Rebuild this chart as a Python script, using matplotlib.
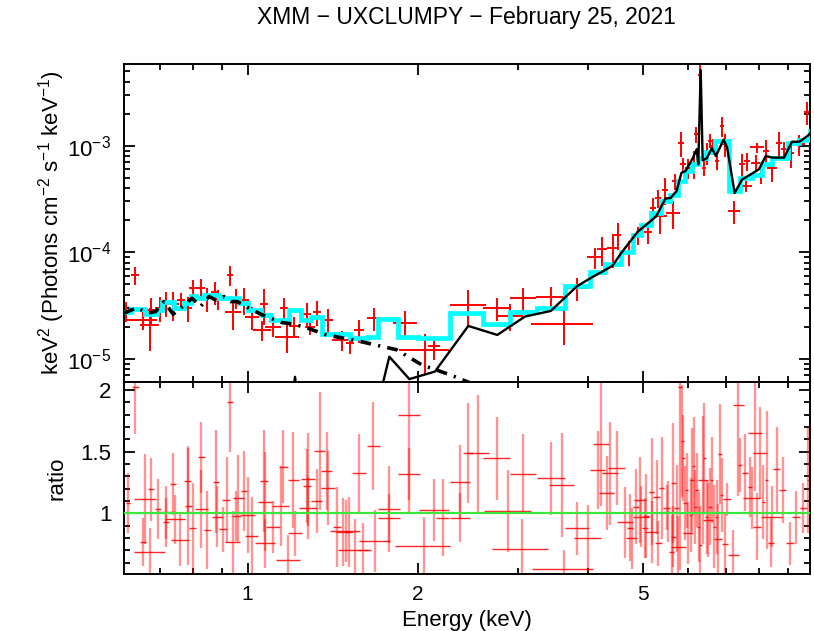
import matplotlib
matplotlib.use("Agg")

import matplotlib.pyplot as plt
from matplotlib.ticker import FixedLocator, FixedFormatter, NullFormatter, MultipleLocator, LogLocator
import numpy as np

plt.rcParams["font.family"] = ["Liberation Sans", "DejaVu Sans"]
plt.rcParams["mathtext.fontset"] = "custom"
plt.rcParams["mathtext.rm"] = "Liberation Sans"
plt.rcParams["mathtext.default"] = "regular"

# =========================
# 1. unfolded spectrum (top panel)
# =========================
spec_e = [0.611, 0.633, 0.653, 0.672, 0.675, 0.700, 0.718, 0.739, 0.762, 0.786,
          0.802, 0.827, 0.847, 0.875, 0.887, 0.931, 0.942, 0.954, 0.985, 1.020,
          1.069, 1.060, 1.109, 1.160, 1.174, 1.208, 1.273, 1.289, 1.325, 1.389,
          1.467, 1.517, 1.575, 1.673, 1.897, 2.058, 2.135, 2.454, 2.755, 2.908,
          3.069, 3.432, 3.623, 3.815, 4.110, 4.223, 4.427, 4.503, 4.719, 4.887,
          5.093, 5.199, 5.311, 5.343, 5.470, 5.644, 5.683, 5.840, 5.879, 5.999,
          6.152, 6.197, 6.286, 6.403, 6.473, 6.561, 6.642, 6.745, 6.884, 6.960,
          7.222, 7.473, 7.577, 7.626, 7.895, 7.943, 8.057, 8.226, 8.453, 8.687,
          8.865, 9.115, 9.434, 9.734]
spec_xerr = [0.010, 0.010, 0.040, 0.027, 0.014, 0.014, 0.012, 0.018, 0.012, 0.013,
             0.013, 0.013, 0.014, 0.014, 0.018, 0.011, 0.031, 0.012, 0.020, 0.029,
             0.017, 0.039, 0.036, 0.019, 0.057, 0.025, 0.021, 0.026, 0.022, 0.028,
             0.060, 0.025, 0.032, 0.048, 0.093, 0.209, 0.052, 0.180, 0.146, 0.154,
             0.162, 0.195, 0.457, 0.186, 0.134, 0.086, 0.108, 0.073, 0.077, 0.099,
             0.083, 0.063, 0.065, 0.152, 0.067, 0.161, 0.069, 0.071, 0.072, 0.073,
             0.050, 0.050, 0.038, 0.052, 0.053, 0.053, 0.054, 0.055, 0.056, 0.085,
             0.176, 0.091, 0.216, 0.093, 0.161, 0.226, 0.098, 0.100, 0.172, 0.106,
             0.108, 0.111, 0.230, 0.119]
spec_flux = [2.82e-5, 6.14e-5, 2.32e-5, 2.09e-5, 2.89e-5, 3.01e-5, 3.38e-5, 3.26e-5, 3.58e-5, 3.01e-5,
             4.64e-5, 4.61e-5, 3.71e-5, 4.23e-5, 3.66e-5, 6.14e-5, 2.76e-5, 3.74e-5, 3.58e-5, 2.48e-5,
             3.28e-5, 1.87e-5, 2.00e-5, 3.01e-5, 1.61e-5, 2.04e-5, 2.65e-5, 2.00e-5, 2.76e-5, 2.32e-5,
             1.51e-5, 1.42e-5, 1.87e-5, 2.43e-5, 2.19e-5, 1.22e-5, 1.31e-5, 3.21e-5, 2.99e-5, 2.54e-5,
             3.71e-5, 3.85e-5, 2.13e-5, 4.61e-5, 9.00e-5, 1.07e-4, 1.09e-4, 1.46e-4, 1.01e-4, 1.46e-4,
             1.56e-4, 2.61e-4, 3.24e-4, 2.17e-4, 3.88e-4, 2.34e-4, 4.67e-4, 1.07e-3, 6.68e-4, 6.18e-4,
             6.93e-4, 1.29e-3, 4.60e-3, 6.22e-4, 8.61e-4, 1.11e-3, 9.93e-4, 7.19e-4, 1.54e-3, 1.04e-3,
             2.44e-4, 6.68e-4, 4.19e-4, 7.19e-4, 6.93e-4, 9.62e-4, 5.37e-4, 8.91e-4, 6.22e-4, 1.07e-3,
             9.31e-4, 8.61e-4, 1.03e-3, 2.06e-3]
spec_yfrac = [0.22, 0.19, 0.19, 0.43, 0.28, 0.26, 0.26, 0.30, 0.17, 0.26,
              0.19, 0.22, 0.26, 0.24, 0.22, 0.22, 0.32, 0.22, 0.28, 0.24,
              0.37, 0.22, 0.19, 0.24, 0.30, 0.22, 0.26, 0.17, 0.26, 0.26,
              0.22, 0.22, 0.24, 0.24, 0.28, 0.41, 0.26, 0.37, 0.24, 0.28,
              0.26, 0.22, 0.37, 0.24, 0.22, 0.30, 0.35, 0.28, 0.26, 0.19,
              0.24, 0.24, 0.19, 0.32, 0.28, 0.30, 0.17, 0.26, 0.15, 0.22,
              0.30, 0.17, 0.30, 0.17, 0.24, 0.15, 0.17, 0.17, 0.22, 0.24,
              0.24, 0.24, 0.13, 0.19, 0.17, 0.11, 0.19, 0.26, 0.26, 0.26,
              0.17, 0.28, 0.22, 0.24]

# total model (cyan histogram)
model_edges = [0.605, 0.622, 0.658, 0.693, 0.707, 0.741, 0.772, 0.793, 0.810, 0.838,
               0.890, 0.933, 0.966, 1.000, 1.055, 1.098, 1.183, 1.241, 1.293, 1.353,
               1.517, 1.623, 1.702, 1.846, 2.003, 2.279, 2.609, 2.908, 3.242, 3.637,
               4.027, 4.280, 4.564, 4.787, 4.955, 5.161, 5.376, 5.567, 5.760, 5.926,
               6.085, 6.248, 6.455, 6.697, 7.076, 7.422, 7.783, 8.106, 8.453, 8.993,
               9.434, 9.838, 10.06]
model_tot = [2.75e-5, 2.97e-5, 2.63e-5, 2.89e-5, 3.45e-5, 2.99e-5, 3.33e-5, 3.93e-5, 3.76e-5, 3.99e-5,
             3.71e-5, 3.76e-5, 3.33e-5, 2.89e-5, 2.59e-5, 2.32e-5, 2.89e-5, 2.32e-5, 2.50e-5, 1.72e-5,
             1.57e-5, 1.60e-5, 2.36e-5, 1.62e-5, 1.57e-5, 2.69e-5, 2.13e-5, 2.75e-5, 2.99e-5, 4.84e-5,
             6.55e-5, 7.78e-5, 1.01e-4, 1.46e-4, 1.81e-4, 2.34e-4, 3.01e-4, 3.45e-4, 4.67e-4, 5.79e-4,
             6.68e-4, 7.67e-4, 8.73e-4, 1.11e-3, 3.74e-4, 4.98e-4, 5.31e-4, 6.68e-4, 7.73e-4, 1.07e-3,
             1.13e-3, 1.38e-3]

# uxclumpy component (solid black)
comp1_e = [0.605, 1.198, 1.213, 1.228, 1.720, 1.737, 1.780, 1.931, 2.143, 2.454,
           2.761, 3.091, 3.432, 3.819, 4.035, 4.411, 4.564, 4.887, 5.057, 5.268,
           5.470, 5.588, 5.722, 5.840, 5.938, 6.122, 6.213, 6.253, 6.315, 6.366,
           6.473, 6.607, 6.717, 6.931, 7.031, 7.250, 7.473, 7.733, 8.002, 8.226,
           8.453, 8.865, 9.152, 9.434, 9.763, 9.963]
comp1_f = [2.69e-6, 4.14e-6, 6.80e-6, 4.14e-6, 4.61e-6, 6.14e-6, 1.05e-5, 6.47e-6, 7.62e-6, 2.04e-5,
           1.68e-5, 2.50e-5, 2.82e-5, 4.81e-5, 5.73e-5, 7.46e-5, 9.75e-5, 1.56e-4, 1.81e-4, 2.17e-4,
           3.19e-4, 3.24e-4, 3.74e-4, 5.57e-4, 5.79e-4, 7.73e-4, 9.27e-4, 6.68e-4, 5.12e-3, 7.30e-4,
           7.62e-4, 9.48e-4, 8.00e-4, 1.14e-3, 9.62e-4, 3.60e-4, 4.82e-4, 5.37e-4, 6.00e-4, 8.00e-4,
           7.73e-4, 7.73e-4, 1.09e-3, 1.09e-3, 1.24e-3, 1.40e-3]

# scattered power law (dash-dot black)
comp2_e = [0.605, 0.638, 0.665, 0.688, 0.712, 0.739, 0.767, 0.798, 0.826, 0.855,
           0.878, 0.908, 0.934, 0.959, 1.006, 1.055, 1.098, 1.152, 1.208, 1.267,
           1.380, 1.580, 1.834, 2.031, 2.279, 2.523]
comp2_f = [2.69e-5, 3.03e-5, 2.69e-5, 2.78e-5, 3.45e-5, 2.63e-5, 3.10e-5, 3.71e-5, 3.10e-5, 3.85e-5,
           3.58e-5, 3.85e-5, 3.45e-5, 3.45e-5, 2.99e-5, 2.63e-5, 2.41e-5, 2.19e-5, 2.12e-5, 1.97e-5,
           1.68e-5, 1.46e-5, 1.22e-5, 8.80e-6, 7.10e-6, 5.72e-6]

# =========================
# 2. data/model ratio (bottom panel)
# =========================
ratio_e = [0.615, 0.633, 0.659, 0.654, 0.672, 0.675, 0.695, 0.718, 0.718, 0.739,
           0.744, 0.760, 0.784, 0.786, 0.800, 0.829, 0.829, 0.849, 0.880, 0.884,
           0.906, 0.918, 0.931, 0.941, 0.963, 0.956, 0.985, 1.000, 1.017, 1.069,
           1.075, 1.075, 1.110, 1.144, 1.157, 1.180, 1.205, 1.213, 1.272, 1.280,
           1.280, 1.324, 1.342, 1.379, 1.389, 1.437, 1.490, 1.472, 1.511, 1.548,
           1.575, 1.597, 1.668, 1.679, 1.780, 1.780, 1.931, 1.931, 2.050, 2.138,
           2.212, 2.373, 2.455, 2.373, 2.557, 2.754, 2.888, 3.070, 3.049, 3.436,
           3.588, 3.627, 3.825, 3.989, 4.211, 4.154, 4.368, 4.309, 4.488, 4.643,
           4.738, 4.771, 4.856, 4.935, 4.955, 5.036, 5.057, 5.175, 5.175, 5.281,
           5.318, 5.391, 5.501, 5.538, 5.614, 5.652, 5.652, 5.730, 5.768, 5.808,
           5.864, 5.888, 5.928, 5.968, 6.009, 6.066, 6.092, 6.134, 6.175, 6.217,
           6.259, 6.302, 6.387, 6.412, 6.473, 6.517, 6.561, 6.607, 6.679, 6.743,
           6.788, 6.834, 6.881, 6.975, 7.022, 7.215, 7.364, 7.413, 7.564, 7.720,
           7.773, 7.879, 7.955, 8.041, 8.151, 8.262, 8.432, 8.409, 8.605, 8.817,
           9.085, 9.310, 9.592, 9.788]
ratio_xerr = [0.006, 0.009, 0.029, 0.007, 0.043, 0.009, 0.009, 0.029, 0.010, 0.010,
              0.030, 0.028, 0.011, 0.011, 0.011, 0.011, 0.023, 0.012, 0.012, 0.020,
              0.015, 0.015, 0.010, 0.028, 0.022, 0.016, 0.013, 0.030, 0.028, 0.019,
              0.031, 0.044, 0.030, 0.039, 0.020, 0.056, 0.028, 0.033, 0.021, 0.038,
              0.047, 0.032, 0.029, 0.032, 0.041, 0.023, 0.090, 0.040, 0.025, 0.105,
              0.047, 0.032, 0.045, 0.107, 0.077, 0.077, 0.084, 0.084, 0.228, 0.130,
              0.060, 0.097, 0.050, 0.097, 0.111, 0.149, 0.274, 0.167, 0.351, 0.196,
              0.180, 0.452, 0.192, 0.216, 0.143, 0.124, 0.148, 0.130, 0.152, 0.157,
              0.064, 0.110, 0.066, 0.114, 0.168, 0.068, 0.069, 0.056, 0.140, 0.072,
              0.072, 0.058, 0.075, 0.090, 0.061, 0.061, 0.061, 0.062, 0.172, 0.039,
              0.040, 0.040, 0.040, 0.040, 0.122, 0.041, 0.041, 0.042, 0.042, 0.042,
              0.042, 0.043, 0.130, 0.043, 0.044, 0.133, 0.044, 0.045, 0.045, 0.046,
              0.110, 0.046, 0.047, 0.095, 0.114, 0.166, 0.170, 0.050, 0.103, 0.052,
              0.264, 0.214, 0.130, 0.240, 0.055, 0.056, 0.366, 0.091, 0.117, 0.120,
              0.148, 0.151, 0.130, 0.066]
ratio_val = [1.081, 2.027, 1.116, 0.765, 0.684, 1.195, 1.032, 1.008, 0.927, 1.238,
             0.951, 0.784, 1.262, 1.062, 0.878, 1.454, 1.035, 0.865, 1.257, 0.973,
             0.870, 1.108, 1.905, 0.765, 1.122, 0.978, 1.184, 0.986, 0.819, 1.262,
             1.095, 0.757, 0.886, 1.059, 1.378, 0.622, 1.270, 0.838, 1.222, 1.276,
             1.041, 1.100, 1.505, 1.343, 1.208, 0.892, 0.857, 0.851, 0.851, 0.703,
             1.324, 0.703, 1.546, 0.778, 1.032, 0.959, 1.797, 1.316, 0.735, 1.027,
             0.965, 1.251, 1.486, 0.965, 1.486, 1.446, 1.019, 1.316, 0.708, 1.284,
             1.230, 0.549, 0.878, 0.797, 1.562, 1.351, 1.324, 1.162, 1.370, 0.927,
             0.884, 0.797, 1.054, 1.108, 0.973, 0.878, 0.978, 1.176, 0.851, 1.130,
             0.757, 1.203, 1.046, 1.014, 0.689, 1.243, 0.811, 1.041, 0.730, 2.027,
             1.589, 1.446, 1.081, 1.189, 0.838, 0.986, 1.270, 1.384, 1.054, 1.189,
             0.892, 0.743, 1.270, 1.446, 0.973, 0.946, 1.054, 1.270, 0.892, 0.973,
             0.789, 1.481, 1.149, 0.751, 1.114, 0.662, 1.878, 1.392, 1.330, 1.216,
             1.122, 1.654, 0.892, 1.486, 1.095, 1.270, 0.973, 0.762, 1.357, 1.189,
             0.757, 0.968, 1.046, 1.270]
ratio_err = [0.243, 0.380, 0.365, 0.196, 0.200, 0.257, 0.243, 0.216, 0.200, 0.254,
             0.200, 0.210, 0.266, 0.480, 0.365, 0.290, 0.318, 0.318, 0.419, 0.250,
             0.182, 0.351, 0.410, 0.257, 0.351, 0.200, 0.324, 0.311, 0.311, 0.412,
             0.399, 0.200, 0.210, 0.324, 0.297, 0.200, 0.388, 0.182, 0.297, 0.378,
             0.250, 0.257, 0.480, 0.318, 0.300, 0.324, 0.250, 0.277, 0.284, 0.250,
             0.318, 0.216, 0.354, 0.250, 0.349, 0.200, 0.800, 0.210, 0.232, 0.250,
             0.311, 0.300, 0.405, 0.200, 0.473, 0.338, 0.331, 0.324, 0.250, 0.297,
             0.419, 0.150, 0.216, 0.270, 0.500, 0.318, 0.419, 0.300, 0.300, 0.290,
             0.270, 0.250, 0.304, 0.351, 0.250, 0.243, 0.338, 0.432, 0.250, 0.300,
             0.182, 0.412, 0.182, 0.250, 0.300, 0.486, 0.250, 0.351, 0.250, 1.490,
             0.454, 0.350, 0.300, 0.304, 0.250, 0.300, 0.419, 0.399, 0.300, 0.300,
             0.284, 0.318, 0.520, 0.446, 0.300, 0.300, 0.311, 0.350, 0.338, 0.300,
             0.290, 0.405, 0.300, 0.250, 0.135, 0.200, 0.740, 0.216, 0.311, 0.243,
             0.250, 0.473, 0.270, 0.372, 0.300, 0.560, 0.250, 0.200, 0.345, 0.270,
             0.176, 0.216, 0.203, 0.432]

title = "XMM \u2212 UXCLUMPY \u2212 February 25, 2021"

# =========================
# 3. figure
# =========================
fig = plt.figure(figsize=(8.14, 6.31), dpi=100)
ax1 = fig.add_axes([0.1523, 0.3951, 0.8428, 0.5035])
ax2 = fig.add_axes([0.1523, 0.0903, 0.8428, 0.3048])

spec_yerr = np.array(spec_flux) * np.array(spec_yfrac)
ax1.errorbar(spec_e, spec_flux, xerr=spec_xerr, yerr=spec_yerr, fmt="none",
             ecolor="red", elinewidth=1.4, zorder=2)
ax1.stairs(model_tot, model_edges, baseline=None, color="cyan", lw=3.4, zorder=3)
ax1.plot(comp1_e, comp1_f, color="black", lw=1.7, zorder=4)
ax1.plot(comp2_e, comp2_f, color="black", lw=2.6, ls=(0, (3, 2, 0.6, 2)), zorder=4)

ax2.errorbar(ratio_e, ratio_val, yerr=ratio_err, fmt="none",
             ecolor="red", elinewidth=1.7, alpha=0.42, zorder=2)
ax2.errorbar(ratio_e, ratio_val, xerr=ratio_xerr, fmt="none",
             ecolor="red", elinewidth=1.0, alpha=0.85, zorder=2)
ax2.axhline(1.0, color="#3ce63c", lw=1.6, zorder=3)

for ax in (ax1, ax2):
    ax.set_xscale("log")
    ax.set_xlim(0.605, 9.85)
    ax.xaxis.set_major_locator(FixedLocator([1, 2, 5]))
    ax.xaxis.set_minor_locator(FixedLocator([0.7, 0.8, 0.9, 3, 4, 6, 7, 8, 9]))
    ax.xaxis.set_minor_formatter(NullFormatter())
    ax.tick_params(which="both", direction="in", top=True, right=True, width=1.3)
    ax.tick_params(axis="x", labelsize=15, pad=8)
    ax.tick_params(axis="y", labelsize=16, pad=9)
    ax.tick_params(which="major", length=8)
    ax.tick_params(which="minor", length=4.5)
    for sp in ax.spines.values():
        sp.set_linewidth(1.4)

ax1.set_yscale("log")
ax1.set_ylim(6.12e-6, 5.84e-3)
ax1.yaxis.set_major_locator(LogLocator(base=10, numticks=10))
ax1.yaxis.set_minor_locator(LogLocator(base=10, subs=np.arange(2, 10), numticks=20))
ax1.yaxis.set_minor_formatter(NullFormatter())
ax1.tick_params(axis="x", labelbottom=False)

ax2.set_ylim(0.508, 2.067)
ax2.yaxis.set_major_locator(FixedLocator([1, 1.5, 2]))
ax2.yaxis.set_major_formatter(FixedFormatter(["1", "1.5", "2"]))
ax2.yaxis.set_minor_locator(MultipleLocator(0.1))
ax2.xaxis.set_major_formatter(FixedFormatter(["1", "2", "5"]))

ax1.set_ylabel(r"keV$^2$ (Photons cm$^{-2}$ s$^{-1}$ keV$^{-1}$)", fontsize=16)
ax2.set_ylabel("ratio", fontsize=16)
ax2.set_xlabel("Energy (keV)", fontsize=16, labelpad=4)
ax1.yaxis.set_label_coords(-0.083, 0.5)
ax2.yaxis.set_label_coords(-0.083, 0.5)

fig.text(0.5735, 0.9715, title, ha="center", va="center", fontsize=16.5)

fig.savefig("out.png", dpi=100)
plt.close(fig)
